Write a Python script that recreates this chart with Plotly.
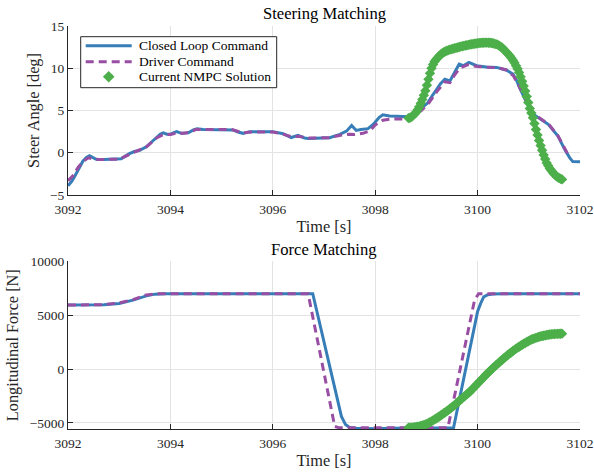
import plotly.graph_objects as go

# ---------------- data ----------------
# Steering: closed loop command (blue)
steer_cl_t = [3092.00, 3092.07, 3092.13, 3092.21, 3092.29, 3092.36, 3092.42, 3092.48, 3092.56, 3092.70,
              3092.90, 3093.04, 3093.12, 3093.20, 3093.30, 3093.40, 3093.53, 3093.63, 3093.73, 3093.80,
              3093.86, 3093.93, 3094.00, 3094.12, 3094.22, 3094.35, 3094.45, 3094.52, 3094.64, 3095.00,
              3095.22, 3095.32, 3095.42, 3095.55, 3096.00, 3096.20, 3096.36, 3096.49, 3096.62, 3096.69,
              3097.11, 3097.31, 3097.44, 3097.54, 3097.63, 3097.72, 3097.86, 3097.93, 3097.99, 3098.08,
              3098.15, 3098.28, 3098.54, 3098.67, 3098.87, 3099.03, 3099.12, 3099.20, 3099.28, 3099.36,
              3099.46, 3099.55, 3099.64, 3099.72, 3099.83, 3099.98, 3100.17, 3100.37, 3100.56, 3100.69,
              3100.76, 3100.82, 3100.93, 3101.02, 3101.10, 3101.18, 3101.38, 3101.57, 3101.70, 3101.80,
              3101.86, 3102.00]
steer_cl_v = [-3.9, -3.4, -2.8, -1.8, -1.0, -0.55, -0.35, -0.55, -0.8, -0.8,
              -0.78, -0.7, -0.4, -0.1, 0.15, 0.3, 0.7, 1.25, 1.8, 2.2,
              2.35, 2.2, 2.2, 2.5, 2.3, 2.35, 2.7, 2.85, 2.75, 2.75,
              2.7, 2.45, 2.3, 2.5, 2.5, 2.25, 1.8, 2.05, 1.75, 1.7,
              1.78, 2.17, 2.56, 3.24, 2.64, 2.75, 2.85, 3.2, 3.55, 4.2,
              4.5, 4.35, 4.35, 4.27, 5.14, 5.93, 6.8, 7.5, 8.2, 8.7,
              8.5, 9.5, 10.5, 10.3, 10.7, 10.3, 10.15, 10.1, 9.8, 9.3,
              8.6, 7.7, 6.3, 5.14, 4.5, 4.15, 3.36, 1.97, 0.4, -0.6,
              -1.05, -1.07]

# Steering: driver command (purple)
steer_drv_t = [3092.00, 3092.10, 3092.20, 3092.30, 3092.40, 3092.50, 3092.60, 3093.00, 3093.20, 3093.40,
               3093.53, 3093.73, 3093.86, 3094.00, 3094.12, 3094.25, 3094.35, 3094.50, 3095.20, 3095.42,
               3095.58, 3096.00, 3096.20, 3096.36, 3096.50, 3096.70, 3097.10, 3097.30, 3097.50, 3097.60,
               3097.76, 3097.90, 3098.00, 3098.15, 3098.30, 3098.60, 3098.75, 3098.90, 3099.05, 3099.20,
               3099.36, 3099.46, 3099.55, 3099.65, 3099.80, 3100.00, 3100.20, 3100.40, 3100.56, 3100.70,
               3100.80, 3100.93, 3101.02, 3101.10, 3101.20, 3101.40, 3101.57, 3101.70, 3101.80]
steer_drv_v = [-3.3, -2.7, -1.7, -1.0, -0.6, -0.75, -0.8, -0.75, -0.2, 0.3,
               0.7, 1.75, 2.15, 2.15, 2.35, 2.3, 2.4, 2.75, 2.75, 2.35,
               2.45, 2.45, 2.2, 1.9, 1.95, 1.75, 1.78, 2.05, 2.2, 2.15,
               2.3, 2.6, 3.3, 3.85, 4.0, 4.0, 4.35, 5.0, 5.9, 7.2,
               8.4, 8.3, 9.2, 10.0, 10.4, 10.2, 10.15, 10.05, 9.8, 9.1,
               8.0, 6.5, 5.3, 4.6, 4.15, 3.3, 2.0, 0.5, -0.6]

# Current NMPC solution (green), sampled every 0.03 s from 3098.65 s
nmpc_t0 = 3098.65
nmpc_dt = 0.03
nmpc_steer = [4.10, 4.15, 4.25, 4.40, 4.60, 4.80, 5.10, 5.45, 5.85, 6.30,
              6.80, 7.35, 8.00, 8.70, 9.40, 10.00, 10.45, 10.80, 11.05, 11.25,
              11.45, 11.62, 11.78, 11.90, 12.00, 12.08, 12.15, 12.21, 12.26, 12.31,
              12.36, 12.41, 12.46, 12.51, 12.56, 12.61, 12.65, 12.69, 12.73, 12.77,
              12.81, 12.84, 12.87, 12.90, 12.93, 12.96, 12.98, 13.00, 13.01, 13.02,
              13.03, 13.03, 13.02, 13.02, 12.99, 12.95, 12.90, 12.85, 12.80, 12.68,
              12.55, 12.42, 12.25, 12.05, 11.85, 11.65, 11.45, 11.20, 10.95, 10.65,
              10.30, 9.95, 9.50, 9.00, 8.45, 7.90, 7.30, 6.65, 5.95, 5.25,
              4.70, 4.15, 3.45, 2.75, 2.10, 1.45, 0.85, 0.30, -0.25, -0.75,
              -1.20, -1.55, -1.85, -2.10, -2.35, -2.55, -2.72, -2.87, -2.98, -3.07,
              -3.15]
nmpc_force = [-5450, -5440, -5430, -5415, -5400, -5380, -5350, -5320, -5280, -5240,
              -5200, -5140, -5080, -5010, -4930, -4850, -4760, -4670, -4580, -4490,
              -4400, -4300, -4200, -4100, -4000, -3900, -3790, -3680, -3570, -3460,
              -3350, -3220, -3090, -2960, -2830, -2700, -2580, -2460, -2340, -2220,
              -2100, -1950, -1800, -1650, -1500, -1350, -1200, -1050, -900, -750,
              -600, -460, -320, -180, -40, 100, 230, 360, 490, 620,
              750, 870, 990, 1110, 1230, 1350, 1460, 1570, 1680, 1790,
              1900, 1990, 2080, 2170, 2260, 2350, 2430, 2510, 2590, 2670,
              2750, 2800, 2850, 2900, 2950, 3000, 3035, 3070, 3100, 3135,
              3170, 3190, 3210, 3230, 3245, 3260, 3268, 3275, 3282, 3287,
              3290]
nmpc_t = [nmpc_t0 + nmpc_dt * k for k in range(len(nmpc_steer))]

# Force: closed loop command (blue)
force_cl_t = [3092.0, 3092.7, 3093.0, 3093.27, 3093.53, 3093.7, 3093.9, 3096.78, 3097.34, 3097.42,
              3097.5, 3097.63, 3098.0, 3098.3, 3099.53, 3100.0, 3100.06, 3100.12, 3100.2, 3100.3,
              3100.5, 3102.0]
force_cl_v = [5950, 5980, 6100, 6400, 6800, 6960, 7000, 7000, -4390, -5150,
              -5420, -5480, -5530, -5490, -5450, 5360, 6100, 6700, 6900, 6980,
              7000, 7000]

# Force: driver command (purple)
force_drv_t = [3092.0, 3092.7, 3093.0, 3093.27, 3093.5, 3093.75, 3096.69, 3097.21, 3097.3, 3099.42,
               3099.65, 3099.81, 3099.94, 3100.02, 3102.0]
force_drv_v = [5950, 5980, 6150, 6450, 6850, 7000, 7000, -5320, -5450, -5450,
               -210, 3500, 6400, 7000, 7000]

# Tick values and labels
xticks = [3092, 3094, 3096, 3098, 3100, 3102]
steer_ticks = [-5, 0, 5, 10, 15]
force_ticks = [-5000, 0, 5000, 10000]
legend_names = ["Closed Loop Command", "Driver Command", "Current NMPC Solution"]

# ---------------- styling ----------------
BLUE = "#377eb8"
PURPLE = "#984ea3"
GREEN = "#4daf4a"
AX = "#262626"
GRID = "#e3e3e3"
FONT = "Liberation Serif"
DASH = "8px,5px"
MSIZE = 8

fig = go.Figure()

fig.add_trace(go.Scatter(x=steer_cl_t, y=steer_cl_v, mode="lines", name=legend_names[0],
                         line=dict(color=BLUE, width=3), xaxis="x", yaxis="y"))
fig.add_trace(go.Scatter(x=steer_drv_t, y=steer_drv_v, mode="lines", name=legend_names[1],
                         line=dict(color=PURPLE, width=3, dash=DASH), xaxis="x", yaxis="y"))
fig.add_trace(go.Scatter(x=nmpc_t, y=nmpc_steer, mode="markers", name=legend_names[2],
                         marker=dict(color=GREEN, symbol="diamond", size=MSIZE, line=dict(width=0)),
                         xaxis="x", yaxis="y"))
fig.add_trace(go.Scatter(x=force_cl_t, y=force_cl_v, mode="lines", name=legend_names[0],
                         line=dict(color=BLUE, width=3), xaxis="x2", yaxis="y2"))
fig.add_trace(go.Scatter(x=force_drv_t, y=force_drv_v, mode="lines", name=legend_names[1],
                         line=dict(color=PURPLE, width=3, dash=DASH), xaxis="x2", yaxis="y2"))
fig.add_trace(go.Scatter(x=nmpc_t, y=nmpc_force, mode="markers", name=legend_names[2],
                         marker=dict(color=GREEN, symbol="diamond", size=MSIZE, line=dict(width=0)),
                         xaxis="x2", yaxis="y2"))

axis_common = dict(showline=True, linecolor=AX, linewidth=1, mirror=False,
                   ticks="inside", ticklen=5, tickcolor=AX, tickwidth=1,
                   showgrid=True, gridcolor=GRID, gridwidth=1, zeroline=False,
                   tickformat="d", automargin=False,
                   tickfont=dict(family=FONT, size=13.5, color=AX))
title_font = dict(family=FONT, size=16.3, color=AX)

# ---------- legend drawn as a boxed key (paper coordinates) ----------
PLOT_L, PLOT_W, PLOT_B, PLOT_H = 68.3, 512.0, 429.3, 403.0


def px_x(px):
    return (px - PLOT_L) / PLOT_W


def px_y(py):
    return (PLOT_B - py) / PLOT_H


shapes = [
    dict(type="rect", xref="paper", yref="paper", x0=px_x(81), x1=px_x(277), y0=px_y(88), y1=px_y(37),
         fillcolor="white", line=dict(color=AX, width=1), layer="above"),
    dict(type="line", xref="paper", yref="paper", x0=px_x(86), x1=px_x(132), y0=px_y(46), y1=px_y(46),
         line=dict(color=BLUE, width=3), layer="above"),
    dict(type="line", xref="paper", yref="paper", x0=px_x(86), x1=px_x(132), y0=px_y(62), y1=px_y(62),
         line=dict(color=PURPLE, width=3, dash=DASH), layer="above"),
]
cx, cy = px_x(109), px_y(77)
dx, dy = 5.8 / PLOT_W, 5.8 / PLOT_H
shapes.append(dict(type="path", xref="paper", yref="paper",
                   path=f"M {cx},{cy + dy} L {cx + dx},{cy} L {cx},{cy - dy} L {cx - dx},{cy} Z",
                   fillcolor=GREEN, line=dict(color=GREEN, width=0), layer="above"))

annotations = [
    dict(text="Steering Matching", x=0.5, y=px_y(13.3), xref="paper", yref="paper",
         xanchor="center", yanchor="middle", showarrow=False,
         font=dict(family=FONT, size=16.6, color="#000000")),
    dict(text="Force Matching", x=0.5, y=px_y(249.3), xref="paper", yref="paper",
         xanchor="center", yanchor="middle", showarrow=False,
         font=dict(family=FONT, size=16.6, color="#000000")),
]
for name, row_y in zip(legend_names, [46, 62, 77]):
    annotations.append(dict(text=name, x=px_x(137), y=px_y(row_y), xref="paper", yref="paper",
                            xanchor="left", yanchor="middle", showarrow=False,
                            font=dict(family=FONT, size=13.5, color="#000000")))

fig.update_layout(
    width=594, height=472,
    margin=dict(l=68.3, r=13.7, t=26.3, b=42.7, autoexpand=False),
    paper_bgcolor="white", plot_bgcolor="white",
    font=dict(family=FONT, size=13.5, color=AX),
    showlegend=False,
    xaxis=dict(domain=[0, 1], anchor="y", range=[3092, 3102], tickvals=xticks, ticklabelstandoff=2,
               title=dict(text="Time [s]", standoff=4, font=title_font), **axis_common),
    yaxis=dict(domain=[0.5806, 1], anchor="x", range=[-5, 15], tickvals=steer_ticks,
               title=dict(text="Steer Angle [deg]", standoff=6, font=title_font), **axis_common),
    xaxis2=dict(domain=[0, 1], anchor="y2", range=[3092, 3102], tickvals=xticks, ticklabelstandoff=2,
                title=dict(text="Time [s]", standoff=4, font=title_font), **axis_common),
    yaxis2=dict(domain=[0, 0.4159], anchor="x2", range=[-5560, 10000], tickvals=force_ticks,
                title=dict(text="Longitudinal Force [N]", standoff=6, font=title_font), **axis_common),
    shapes=shapes,
    annotations=annotations,
)

fig.write_html("out.html")
